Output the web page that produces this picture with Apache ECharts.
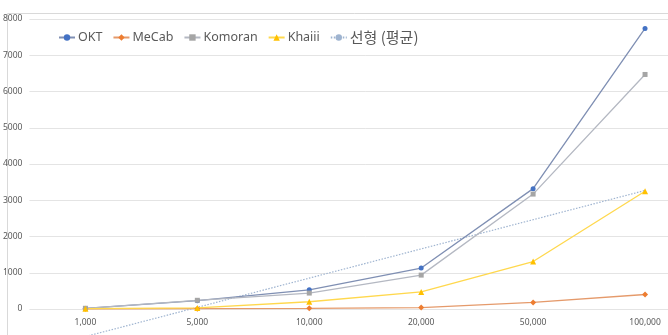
<!DOCTYPE html>
<html><head><meta charset="utf-8">
<script src="https://cdn.jsdelivr.net/npm/echarts@6/dist/echarts.min.js"></script>
<style>html,body{margin:0;padding:0;background:#fff;overflow:hidden}#c{width:701px;height:335px}</style>
</head><body><div id="c"></div>
<script>
const categories = ['1,000', '5,000', '10,000', '20,000', '50,000', '100,000'];
const okt = [15, 230, 530, 1130, 3320, 7740];
const mecab = [5, 10, 20, 40, 180, 400];
const komoran = [20, 240, 440, 935, 3170, 6470];
const khaiii = [10, 30, 200, 470, 1310, 3250];
// linear trend of the average, endpoints
const trend = [-760, null, null, null, null, 3270];
const yTicks = [0, 1000, 2000, 3000, 4000, 5000, 6000, 7000, 8000];

const font = '"Noto Sans", "Noto Sans CJK KR", sans-serif';
const chart = echarts.init(document.getElementById('c'), null, {renderer: 'canvas'});
function ser(name, data, color, lineColor, symbol, size) {
  return {
    name, type: 'line', data, symbol, symbolSize: size,
    itemStyle: {color}, lineStyle: {color: lineColor, width: 1.3},
    clip: false, z: 3
  };
}
chart.setOption({
  animation: false,
  textStyle: {fontFamily: font},
  graphic: [{type: 'rect', left: 5, top: 11, shape: {width: 720, height: 400},
    style: {fill: 'none', stroke: '#d9d9d9', lineWidth: 1}, silent: true}],
  legend: {
    left: 53, top: 25, itemWidth: 16, itemHeight: 8, itemGap: 10,
    textStyle: {color: '#595959', fontSize: 12.5, fontFamily: font, padding: [0, 0, 0, -2],
      rich: {k: {fontSize: 15, color: '#595959', fontFamily: '"Noto Sans CJK KR", sans-serif'}}},
    formatter: n => n === '선형 (평균)' ? '{k|' + n + '}' : n,
    data: ['OKT', 'MeCab', 'Komoran', 'Khaiii', '선형 (평균)']
  },
  grid: {left: 29, right: 0, top: 19, bottom: 26, containLabel: false},
  xAxis: {
    type: 'category', data: categories, boundaryGap: true,
    axisLine: {show: false}, axisTick: {show: false},
    axisLabel: {color: '#595959', fontSize: 8.5, margin: 9, fontFamily: font}
  },
  yAxis: {
    type: 'value', min: yTicks[0], max: yTicks[yTicks.length - 1], interval: 1000,
    axisLine: {show: false}, axisTick: {show: false},
    axisLabel: {color: '#595959', fontSize: 8.5, margin: 7, fontFamily: font, formatter: v => String(v)},
    splitLine: {lineStyle: {color: '#e4e4e4', width: 1}}
  },
  series: [
    ser('OKT', okt, '#4472C4', '#7f8fb3', 'circle', 5),
    ser('MeCab', mecab, '#ED7D31', '#e59a6b', 'diamond', 6),
    ser('Komoran', komoran, '#A5A5A5', '#b4b8c2', 'rect', 5),
    ser('Khaiii', khaiii, '#FFC000', '#ffd84d', 'triangle', 6),
    {name: '선형 (평균)', type: 'line', data: trend, connectNulls: true, symbol: 'none',
      itemStyle: {color: '#9fb4d0'},
      lineStyle: {color: '#9fb4d0', width: 1.2, type: [1.5, 1.5]}, clip: false, z: 2}
  ]
});
</script></body></html>
